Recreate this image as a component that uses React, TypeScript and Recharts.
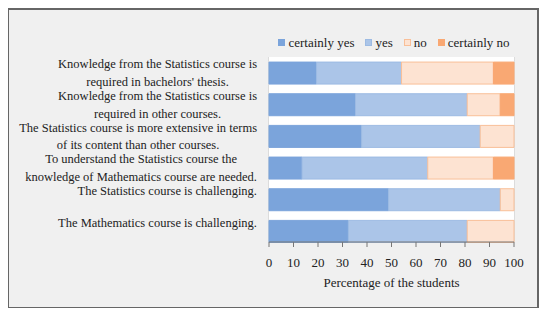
import React from "react";
import { Bar, BarChart, CartesianGrid, XAxis, YAxis } from "recharts";

const statements = [
  "Knowledge from the Statistics course is required in bachelors' thesis.",
  "Knowledge from the Statistics course is required in other courses.",
  "The Statistics course is more extensive in terms of its content than other courses.",
  "To understand the Statistics course the knowledge of Mathematics course are needed.",
  "The Statistics course is challenging.",
  "The Mathematics course is challenging.",
];

// how each statement is wrapped on the axis
const statementLines = [
  ["Knowledge from the Statistics course is", "required in bachelors' thesis."],
  ["Knowledge from the Statistics course is", "required in other courses."],
  ["The Statistics course is more extensive in terms", "of its content than other courses."],
  ["To understand the Statistics course the", "knowledge of Mathematics course are needed."],
  ["The Statistics course is challenging."],
  ["The Mathematics course is challenging."],
];

const certainlyYes = [19.4, 35.3, 37.8, 13.5, 48.8, 32.4];
const yes = [34.7, 45.6, 48.4, 51.3, 45.6, 48.5];
const no = [37.5, 13.5, 13.8, 26.8, 5.6, 19.1];
const certainlyNo = [8.4, 5.6, 0, 8.4, 0, 0];

const xTicks = [0, 10, 20, 30, 40, 50, 60, 70, 80, 90, 100];

const FONT = "'Liberation Serif', serif";
const LABEL_SIZE = 12.5;

const series = [
  { key: "cy", name: "certainly yes", fill: "#7ba4db", stroke: "#7ba4db" },
  { key: "y", name: "yes", fill: "#abc5e8", stroke: "#9dbbe3" },
  { key: "n", name: "no", fill: "#fde3d2", stroke: "#f9bf98" },
  { key: "cn", name: "certainly no", fill: "#f9a873", stroke: "#f9a873" },
];

const data = statements.map((s, i) => ({
  statement: s,
  cy: certainlyYes[i],
  y: yes[i],
  n: no[i],
  cn: certainlyNo[i],
}));

let ctx: CanvasRenderingContext2D | null = null;
function textWidth(t: string): number {
  if (!ctx) ctx = document.createElement("canvas").getContext("2d");
  if (!ctx) return t.length * 6;
  ctx.font = `${LABEL_SIZE}px ${FONT}`;
  return ctx.measureText(t).width;
}

function StatementTick(props: any) {
  const { y, payload, index } = props;
  const lines = statementLines[index] ?? [payload.value];
  const right = 249;
  const widest = Math.max(...lines.map(textWidth));
  const cx = right - widest / 2;
  // baseline of first line sits a bit above the bar centre, like the original
  const first = y - 8 + 3.5;
  return (
    <text fontFamily={FONT} fontSize={LABEL_SIZE} fill="#222" textAnchor="middle">
      {lines.map((l: string, k: number) => (
        <tspan key={k} x={cx} y={first + k * 17.5}>
          {l}
        </tspan>
      ))}
    </text>
  );
}

function LegendBox() {
  return (
    <div
      style={{
        position: "absolute",
        left: 256,
        top: 27,
        width: 260,
        display: "flex",
        justifyContent: "center",
        gap: 11,
        fontFamily: FONT,
        fontSize: 13,
        lineHeight: "15px",
        whiteSpace: "nowrap",
        color: "#222",
      }}
    >
      {series.map((s) => (
        <span key={s.key} style={{ display: "flex", alignItems: "center" }}>
          <span
            style={{
              width: 7,
              height: 7,
              boxSizing: "border-box",
              background: s.fill,
              border: `1px solid ${s.stroke}`,
              marginRight: 3,
              flexShrink: 0,
              display: "inline-block",
            }}
          />
          {s.name}
        </span>
      ))}
    </div>
  );
}

export default function App() {
  return (
    <div style={{ position: "relative", width: 530, height: 300 }}>
      <div
        style={{
          position: "absolute",
          left: -1,
          top: 0,
          width: 532,
          height: 301,
          boxSizing: "border-box",
          border: "2px solid #666",
          background: "#f0f0f0",
        }}
      />
      <div style={{ position: "absolute", left: 0, top: 0 }}>
        <BarChart
          width={530}
          height={300}
          data={data}
          layout="vertical"
          barCategoryGap="16%"
          margin={{ top: 49, right: 24, bottom: 26, left: 6 }}
        >
          <rect x={261} y={49} width={245} height={185} fill="#fff" />
          <CartesianGrid horizontal={false} stroke="#c8c8c8" strokeWidth={1} />
          <XAxis
            type="number"
            domain={[0, 100]}
            ticks={xTicks}
            interval={0}
            height={40}
            tickSize={5}
            tickMargin={11}
            tick={{ fontFamily: FONT, fontSize: 13, fill: "#222" }}
            stroke="#777"
            label={{
              value: "Percentage of the students",
              position: "insideBottom",
              offset: -5,
              style: { fontFamily: FONT, fontSize: 13, fill: "#222" },
            }}
          />
          <YAxis
            type="category"
            dataKey="statement"
            width={255}
            axisLine={false}
            tickLine={false}
            tick={<StatementTick />}
            interval={0}
            padding={{ top: 0, bottom: -5 }}
          />
          {series.map((s) => (
            <Bar
              key={s.key}
              dataKey={s.key}
              name={s.name}
              stackId="a"
              fill={s.fill}
              stroke={s.stroke}
              strokeWidth={1}
              isAnimationActive={false}
            />
          ))}
        </BarChart>
      </div>
      <LegendBox />
    </div>
  );
}
